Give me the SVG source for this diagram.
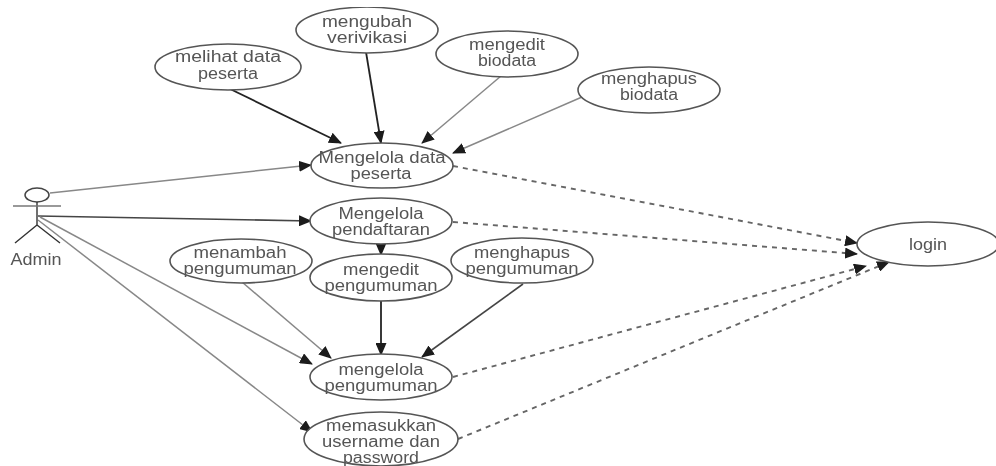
<svg xmlns="http://www.w3.org/2000/svg" width="996" height="466" viewBox="0 0 996 466">
<style>
.n ellipse{fill:#fff;stroke:#555;stroke-width:1.6}
text{font-family:"Liberation Sans",Arial,sans-serif;font-size:16px;fill:#555;text-anchor:middle}
.g{stroke:#888;stroke-width:1.5;fill:none}
.k{stroke:#222;stroke-width:1.8;fill:none}
.m{stroke:#444;stroke-width:1.6;fill:none}
.d{stroke:#666;stroke-width:1.9;fill:none;stroke-dasharray:5 5}
.a{fill:#1a1a1a}
</style>
<defs>
<marker id="ah" markerWidth="13" markerHeight="11" refX="12" refY="5.500" orient="auto" markerUnits="userSpaceOnUse"><path class="a" d="M0 0L13 5.500L0 11Z"/></marker>
<filter id="soft" x="0" y="0" width="100%" height="100%"><feGaussianBlur stdDeviation="0.45"/></filter>
</defs>
<rect width="996" height="466" fill="#fff"/>
<g filter="url(#soft)">
<g id="connectors">
<path class="g" marker-end="url(#ah)" d="M50 193L311 165"/>
<path class="m" marker-end="url(#ah)" d="M38 216L311 221"/>
<path class="g" marker-end="url(#ah)" d="M40 217L312 364"/>
<path class="g" marker-end="url(#ah)" d="M38 220L312 432"/>
<path class="k" marker-end="url(#ah)" d="M226 87L341 143"/>
<path class="k" marker-end="url(#ah)" d="M366 52L381 143"/>
<path class="g" marker-end="url(#ah)" d="M501 76L422 143"/>
<path class="g" marker-end="url(#ah)" d="M582 97L453 153"/>
<path class="k" marker-end="url(#ah)" d="M381 244L381 255"/>
<path class="g" marker-end="url(#ah)" d="M242 282L331 358"/>
<path class="k" marker-end="url(#ah)" d="M381 301L381 355"/>
<path class="m" marker-end="url(#ah)" d="M523 284L422 357"/>
<path class="d" marker-end="url(#ah)" d="M453 166L857 243"/>
<path class="d" marker-end="url(#ah)" d="M453 222L857 254"/>
<path class="d" marker-end="url(#ah)" d="M453 377L866 266"/>
<path class="d" marker-end="url(#ah)" d="M458 439L889 262"/>
</g>
<g id="admin">
<ellipse cx="37" cy="195" rx="12" ry="7" fill="#fff" stroke="#444" stroke-width="1.5"/>
<path d="M37 202V225M37 225L15 243M37 225L60 243" stroke="#333" stroke-width="1.4" fill="none"/>
<path d="M13 206H61" stroke="#777" stroke-width="1.5"/>
<text x="36" y="265" textLength="51" lengthAdjust="spacingAndGlyphs">Admin</text>
</g>
<g id="uc-melihat" class="n"><ellipse cx="228" cy="67" rx="73" ry="23"/><text x="228" y="62" textLength="106" lengthAdjust="spacingAndGlyphs">melihat data</text><text x="228" y="79" textLength="60" lengthAdjust="spacingAndGlyphs">peserta</text></g>
<g id="uc-mengubah" class="n"><ellipse cx="367" cy="30" rx="71" ry="23"/><text x="367" y="27" textLength="90" lengthAdjust="spacingAndGlyphs">mengubah</text><text x="367" y="43" textLength="80" lengthAdjust="spacingAndGlyphs">verivikasi</text></g>
<g id="uc-mengedit-biodata" class="n"><ellipse cx="507" cy="54" rx="71" ry="23"/><text x="507" y="50" textLength="76" lengthAdjust="spacingAndGlyphs">mengedit</text><text x="507" y="66" textLength="58" lengthAdjust="spacingAndGlyphs">biodata</text></g>
<g id="uc-menghapus-biodata" class="n"><ellipse cx="649" cy="90" rx="71" ry="23"/><text x="649" y="84" textLength="96" lengthAdjust="spacingAndGlyphs">menghapus</text><text x="649" y="100" textLength="58" lengthAdjust="spacingAndGlyphs">biodata</text></g>
<g id="uc-data-peserta" class="n"><ellipse cx="382" cy="165.500" rx="71" ry="22.500"/><text x="382" y="163" textLength="127" lengthAdjust="spacingAndGlyphs">Mengelola data</text><text x="381" y="179" textLength="61" lengthAdjust="spacingAndGlyphs">peserta</text></g>
<g id="uc-pendaftaran" class="n"><ellipse cx="381" cy="221" rx="71" ry="23"/><text x="381" y="219" textLength="85" lengthAdjust="spacingAndGlyphs">Mengelola</text><text x="381" y="235" textLength="98" lengthAdjust="spacingAndGlyphs">pendaftaran</text></g>
<g id="uc-menambah" class="n"><ellipse cx="241" cy="261" rx="71" ry="22"/><text x="240" y="258" textLength="93" lengthAdjust="spacingAndGlyphs">menambah</text><text x="240" y="274" textLength="113" lengthAdjust="spacingAndGlyphs">pengumuman</text></g>
<g id="uc-mengedit-peng" class="n"><ellipse cx="381" cy="277.500" rx="71" ry="23.500"/><text x="381" y="275" textLength="76" lengthAdjust="spacingAndGlyphs">mengedit</text><text x="381" y="291" textLength="113" lengthAdjust="spacingAndGlyphs">pengumuman</text></g>
<g id="uc-menghapus-peng" class="n"><ellipse cx="522" cy="260.500" rx="71" ry="22.500"/><text x="522" y="258" textLength="96" lengthAdjust="spacingAndGlyphs">menghapus</text><text x="522" y="274" textLength="113" lengthAdjust="spacingAndGlyphs">pengumuman</text></g>
<g id="uc-mengelola-peng" class="n"><ellipse cx="381" cy="377" rx="71" ry="23"/><text x="381" y="375" textLength="85" lengthAdjust="spacingAndGlyphs">mengelola</text><text x="381" y="391" textLength="113" lengthAdjust="spacingAndGlyphs">pengumuman</text></g>
<g id="uc-memasukkan" class="n"><ellipse cx="381" cy="439" rx="77" ry="27"/><text x="381" y="431" textLength="110" lengthAdjust="spacingAndGlyphs">memasukkan</text><text x="381" y="447" textLength="118" lengthAdjust="spacingAndGlyphs">username dan</text><text x="381" y="463" textLength="76" lengthAdjust="spacingAndGlyphs">password</text></g>
<g id="uc-login" class="n"><ellipse cx="928" cy="244" rx="71" ry="22"/><text x="928" y="250" textLength="38" lengthAdjust="spacingAndGlyphs">login</text></g>
</g>
</svg>
